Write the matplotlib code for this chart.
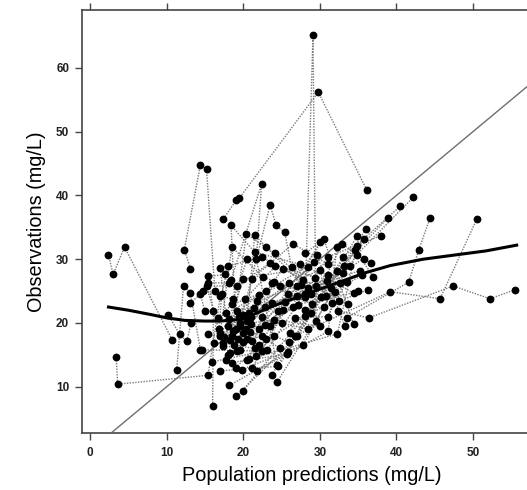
import matplotlib
matplotlib.use("Agg")
import matplotlib.pyplot as plt

plt.rcParams['font.family'] = ['Liberation Sans', 'DejaVu Sans']

# per-subject population predictions (x) and observations (y), mg/L
pred = [
    [2.4, 3.0, 4.5, 10.7],
    [3.4, 3.6, 15.4, 17.0],
    [17.4, 19.1, 19.5, 29.8, 36.1],
    [28.1, 29.1, 29.5],
    [13.1, 12.3, 14.4, 15.2, 16.3],
    [18.4, 22.4, 21.7, 24.4],
    [19.6, 23.5, 24.3, 25.4, 26.3],
    [10.2, 11.7, 12.6, 13.2],
    [11.3, 12.2, 13.1, 14.4],
    [16.0, 16.1, 15.4, 17.6],
    [19.1, 27.0, 34.9],
    [19.9, 28.1, 35.7],
    [18.2, 25.8, 32.2, 38.9],
    [23.7, 33.0, 40.5],
    [24.4, 34.8, 42.2],
    [33.5, 41.6, 42.9, 44.4],
    [26.8, 39.2, 45.7, 50.5],
    [32.4, 36.4, 47.4, 52.2, 55.5],
    [17.0, 24.6, 36.0],
    [15.9, 23.1, 31.1, 38.0],
    [18.5, 25.7, 32.9, 36.7],
    [19.8, 27.8, 34.6, 37.0],
    [21.8, 31.1, 32.2],
    [20.5, 32.3, 34.8],
    [14.6, 22.4, 29.6, 33.3],
    [15.4, 21.1, 30.5, 34.4],
    [17.4, 20.0, 28.5, 34.4],
    [17.0, 18.5, 22.6, 31.6],
    [18.5, 20.4, 24.2, 30.2],
    [20.5, 21.5, 23.0, 28.9],
    [19.2, 18.4, 21.5, 27.4],
    [18.3, 17.0, 22.4, 27.8],
    [19.6, 21.1, 26.5, 31.1],
    [20.8, 23.8, 25.2, 33.7],
    [17.4, 15.2, 19.2, 23.5, 29.4],
    [16.7, 18.5, 24.8, 30.9],
    [19.6, 20.2, 24.2, 32.6],
    [17.0, 21.8, 27.0, 31.5],
    [18.3, 23.7, 28.0, 35.7],
    [22.0, 25.2, 30.5, 36.3],
    [23.5, 25.9, 29.0, 35.0],
    [26.1, 26.8, 31.0, 33.5],
    [20.0, 19.0, 25.0, 28.5],
    [21.0, 19.5, 22.5, 27.5],
    [20.8, 18.0, 24.0, 30.0],
    [18.8, 21.5, 24.0, 26.0],
    [20.0, 22.5, 23.0, 24.8],
    [17.8, 23.0, 24.0, 28.0],
    [13.1, 14.8, 18.7, 20.5],
    [15.0, 14.4, 15.4, 18.1],
    [16.8, 17.2, 18.0],
    [21.2, 30.0, 28.1],
    [18.0, 20.5, 26.5, 31.0],
    [17.5, 19.2, 27.0, 33.0],
    [19.3, 21.0, 28.5, 34.0],
    [20.3, 22.8, 29.5, 35.2],
    [18.6, 20.9, 25.5, 32.0],
    [19.9, 21.4, 26.0, 30.0],
    [16.2, 18.2, 22.0, 29.2],
    [17.7, 22.9, 27.2, 33.1],
    [21.6, 24.5, 30.8, 35.5],
    [19.0, 22.0, 28.8, 32.5],
]
obs = [
    [30.7, 27.6, 31.9, 17.4],
    [14.6, 10.4, 11.8, 24.2],
    [36.3, 39.3, 39.6, 56.2, 40.9],
    [24.5, 65.1, 20.3],
    [28.5, 31.5, 44.8, 44.1, 25.0],
    [26.7, 41.8, 30.1, 13.4],
    [20.0, 38.5, 35.3, 34.2, 28.8],
    [21.3, 18.2, 17.1, 20.0],
    [12.6, 25.8, 24.7, 15.8],
    [7.0, 21.8, 27.3, 27.6],
    [8.5, 17.9, 33.7],
    [9.4, 21.1, 33.2],
    [10.2, 15.4, 28.1, 36.5],
    [11.8, 30.3, 38.3],
    [10.7, 30.7, 39.7],
    [20.8, 26.4, 31.4, 36.5],
    [18.0, 24.9, 23.8, 36.3],
    [21.9, 20.8, 25.8, 23.8, 25.2],
    [12.5, 13.2, 34.7],
    [13.9, 15.7, 30.4, 33.7],
    [13.8, 15.1, 32.4, 29.4],
    [12.7, 16.5, 31.5, 27.2],
    [12.5, 18.7, 31.9],
    [14.2, 18.3, 32.0],
    [15.8, 15.6, 30.6, 19.5],
    [18.2, 17.1, 33.2, 19.8],
    [16.9, 26.9, 28.7, 24.7],
    [18.5, 31.9, 27.2, 23.2],
    [17.9, 33.9, 30.9, 24.0],
    [20.3, 33.8, 31.9, 24.5],
    [15.6, 35.3, 31.1, 29.2],
    [15.3, 28.6, 30.3, 26.8],
    [15.8, 26.9, 32.4, 29.2],
    [14.3, 26.3, 28.5, 22.9],
    [16.4, 25.8, 25.8, 29.4, 27.1],
    [20.8, 22.9, 25.8, 26.6],
    [19.5, 23.7, 28.9, 26.3],
    [17.9, 23.4, 25.8, 25.5],
    [17.4, 23.2, 24.0, 30.1],
    [19.0, 22.1, 22.5, 25.2],
    [19.5, 24.5, 23.0, 25.0],
    [18.5, 20.8, 21.0, 26.5],
    [18.5, 19.0, 20.0, 19.0],
    [19.8, 21.0, 21.0, 26.0],
    [21.5, 19.5, 20.5, 19.5],
    [16.5, 16.0, 18.0, 17.0],
    [17.0, 18.0, 17.5, 16.0],
    [21.5, 25.0, 26.5, 22.0],
    [23.1, 25.0, 23.7, 30.0],
    [21.8, 24.5, 26.3, 26.3],
    [19.0, 24.5, 29.0],
    [13.0, 32.7, 30.9],
    [15.0, 17.5, 22.5, 27.5],
    [17.8, 21.8, 24.3, 27.8],
    [17.5, 21.0, 25.5, 29.0],
    [19.0, 22.5, 25.8, 28.2],
    [18.8, 18.6, 23.3, 24.8],
    [21.3, 22.3, 26.2, 28.3],
    [16.8, 20.6, 24.4, 29.5],
    [14.2, 19.7, 22.8, 29.0],
    [14.8, 21.8, 24.2, 27.5],
    [13.0, 16.5, 21.6, 23.5],
]

# loess smooth
smooth_x = [2.4, 5.0, 8.0, 10.0, 12.4, 15.0, 17.0, 20.0, 22.2, 24.0, 27.0, 30.0,
            33.0, 36.0, 39.2, 43.5, 47.9, 51.7, 55.7]
smooth_y = [22.5, 22.0, 21.3, 20.8, 20.4, 20.3, 20.3, 20.6, 21.8, 22.7, 24.0, 25.3,
            26.6, 27.9, 29.0, 30.0, 30.7, 31.3, 32.2]

xticks = [0, 10, 20, 30, 40, 50]
yticks = [10, 20, 30, 40, 50, 60]

fig = plt.figure(figsize=(5.27, 4.90), dpi=100)
ax = fig.add_axes([0.155, 0.117, 0.845, 0.863])

for px, py in zip(pred, obs):
    ax.plot(px, py, color='#7a7a7a', lw=1.0, ls=(0, (1, 1)), zorder=2)
    ax.plot(px, py, 'o', color='black', ms=4.6, ls='none', zorder=4)

ax.axline((0, 0), slope=1, color='#6e6e6e', lw=1.0, zorder=3)
ax.plot(smooth_x, smooth_y, color='black', lw=2.2, zorder=5)

ax.set_xlim(-1.1, 57.05)
ax.set_ylim(2.8, 69.1)
ax.set_xticks(xticks)
ax.set_yticks(yticks)
ax.tick_params(axis='x', which='both', top=True, labeltop=False, direction='out',
               length=5, width=1.0, color='#444444', labelsize=8.5, pad=5)
ax.tick_params(axis='y', direction='out', length=5, width=1.0, color='#444444',
               labelsize=8.5, pad=4)
for lab in ax.get_xticklabels() + ax.get_yticklabels():
    lab.set_fontweight('bold')
    lab.set_color('#222222')

ax.spines['right'].set_visible(False)
for s in ['left', 'bottom', 'top']:
    ax.spines[s].set_color('#444444')
    ax.spines[s].set_linewidth(1.2)

ax.set_xlabel('Population predictions (mg/L)', fontsize=14.3)
ax.xaxis.set_label_coords(0.516, -0.08)
ax.set_ylabel('Observations (mg/L)', fontsize=14.3, labelpad=7)

fig.savefig('out.png', dpi=100)
